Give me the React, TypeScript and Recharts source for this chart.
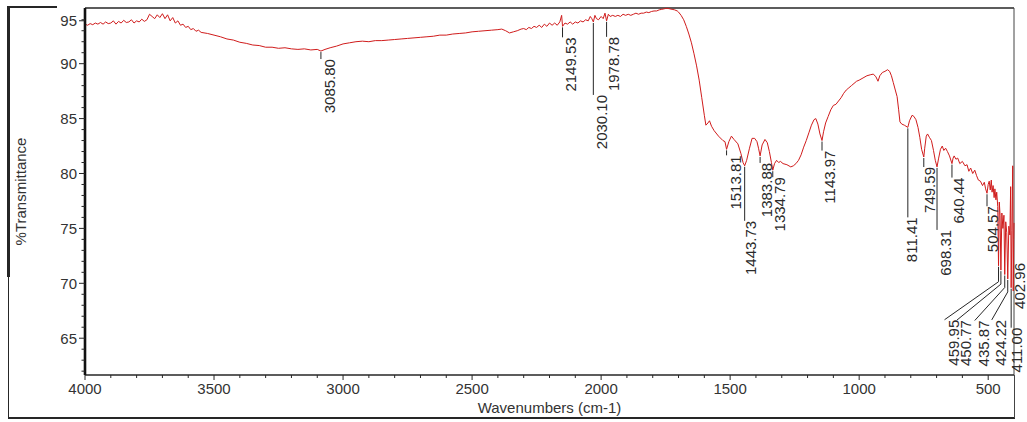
import { ComposedChart, Line, Scatter, XAxis, YAxis, ReferenceLine } from 'recharts';

// FTIR spectrum as [wavenumber, %T] pairs (left to right)
const highBaseline: [number, number][] = [
  [4000, 93.6], [3990, 93.5], [3980, 93.65], [3970, 93.55], [3960, 93.7], [3950, 93.6],
  [3940, 93.75], [3930, 93.6], [3920, 93.8], [3910, 93.65], [3900, 93.7], [3890, 93.9],
  [3880, 93.6], [3870, 93.85], [3860, 93.7], [3850, 93.95], [3840, 93.75], [3830, 93.8],
  [3820, 94.0], [3810, 93.7], [3800, 93.9], [3790, 93.8], [3780, 94.05], [3770, 93.85],
  [3760, 94.0], [3750, 94.5], [3740, 94.3], [3730, 94.1], [3720, 94.45], [3710, 94.2],
  [3700, 94.55], [3690, 94.1], [3680, 94.45], [3670, 93.9], [3660, 94.2], [3650, 93.7],
  [3640, 93.9], [3630, 93.5], [3620, 93.6], [3610, 93.3], [3600, 93.4], [3590, 93.1],
  [3580, 93.2], [3570, 92.95], [3560, 93.05],
];

const broadOH: [number, number][] = [
  [3550, 92.85], [3525, 92.75], [3500, 92.6], [3475, 92.45], [3450, 92.25], [3425, 92.15],
  [3400, 91.95], [3375, 91.85], [3350, 91.7], [3325, 91.65], [3300, 91.5], [3275, 91.5],
  [3250, 91.4], [3225, 91.45], [3200, 91.35], [3175, 91.3], [3150, 91.35], [3125, 91.25],
  [3100, 91.3], [3085.8, 91.15], [3070, 91.3], [3050, 91.45], [3025, 91.6], [3000, 91.8],
  [2975, 91.9], [2950, 92.0], [2925, 92.05], [2900, 92.0], [2875, 92.1], [2850, 92.1],
  [2825, 92.15], [2800, 92.2], [2775, 92.25], [2750, 92.3], [2725, 92.35], [2700, 92.4],
  [2675, 92.45], [2650, 92.5], [2625, 92.6], [2600, 92.6], [2575, 92.7], [2550, 92.75],
  [2525, 92.8], [2500, 92.9], [2475, 92.95], [2450, 93.0], [2425, 93.05], [2400, 93.1],
  [2385, 93.15], [2370, 93.0], [2355, 92.8], [2340, 92.9], [2325, 93.0], [2310, 93.15],
];

const noisyMid: [number, number][] = [
  [2300, 93.2], [2290, 93.1], [2280, 93.3], [2270, 93.2], [2260, 93.4], [2250, 93.3],
  [2240, 93.5], [2230, 93.3], [2220, 93.6], [2210, 93.4], [2200, 93.7], [2190, 93.5],
  [2180, 93.7], [2170, 93.5], [2160, 93.8], [2153, 94.4], [2149.5, 93.4], [2140, 93.7],
  [2130, 93.6], [2120, 93.8], [2110, 93.6], [2100, 93.8], [2090, 93.7], [2080, 93.9],
  [2070, 93.8], [2060, 94.0], [2050, 93.9], [2042, 94.3], [2036, 94.1], [2030.1, 93.8],
  [2024, 94.4], [2018, 94.1], [2010, 94.0], [2000, 94.3], [1992, 94.1], [1985, 94.6],
  [1978.8, 93.9], [1972, 94.5], [1965, 94.3], [1955, 94.4], [1945, 94.3], [1935, 94.4],
  [1925, 94.3], [1915, 94.5], [1905, 94.4], [1895, 94.5], [1885, 94.4], [1875, 94.5],
  [1865, 94.6], [1855, 94.5], [1845, 94.6], [1835, 94.6], [1825, 94.7], [1815, 94.65],
  [1805, 94.75], [1795, 94.8], [1785, 94.8], [1775, 94.9], [1765, 94.95], [1755, 95.0],
  [1745, 95.05], [1735, 95.0], [1725, 94.95], [1715, 94.9], [1705, 94.8],
];

const fingerprint: [number, number][] = [
  [1700, 94.7], [1690, 94.4], [1680, 94.0], [1670, 93.4], [1660, 92.7], [1650, 91.9],
  [1640, 90.9], [1630, 89.8], [1620, 88.5], [1610, 86.9], [1600, 85.3], [1594, 84.4],
  [1586, 84.6], [1580, 84.8], [1572, 84.3], [1562, 83.9], [1545, 83.4], [1528, 83.0],
  [1520, 82.9], [1513.8, 82.2], [1505, 82.9], [1495, 83.4], [1485, 83.1], [1470, 82.7],
  [1458, 81.8], [1450, 81.0], [1443.7, 80.7], [1436, 81.2], [1425, 82.3], [1415, 83.2],
  [1405, 83.2], [1396, 82.9], [1390, 82.3], [1383.9, 81.6], [1376, 82.6], [1365, 83.1],
  [1356, 82.8], [1348, 82.0], [1340, 81.0], [1334.8, 80.3], [1328, 80.9], [1320, 81.2],
  [1312, 81.0], [1305, 81.1], [1295, 80.9], [1280, 80.8], [1265, 80.6], [1255, 80.7],
  [1245, 80.9], [1235, 81.2], [1225, 81.7], [1215, 82.4], [1205, 83.0], [1195, 83.7],
  [1185, 84.4], [1175, 84.9], [1168, 85.0], [1160, 84.5], [1152, 83.6], [1144, 83.0],
  [1138, 83.8], [1130, 84.6], [1120, 85.2], [1110, 85.8], [1100, 86.2], [1090, 86.3],
  [1080, 86.6], [1070, 86.9], [1060, 87.3], [1050, 87.6], [1040, 87.8], [1030, 88.0],
  [1020, 88.2], [1010, 88.4], [1000, 88.5], [985, 88.7], [970, 88.9], [955, 89.0],
  [945, 89.05], [935, 88.8], [927, 88.4], [920, 88.9], [910, 89.2], [900, 89.3],
  [890, 89.45], [882, 89.3], [875, 88.9], [868, 88.3], [860, 87.6], [853, 87.0],
  [847, 85.8], [842, 84.7], [835, 84.5], [825, 84.4], [811.4, 84.2], [805, 84.8],
  [795, 85.3], [788, 85.2], [780, 84.9], [772, 84.2], [765, 83.3], [758, 82.2],
  [749.6, 81.5], [746, 82.3], [740, 83.4], [735, 83.6], [728, 83.3], [720, 83.0],
  [712, 82.1], [705, 81.2], [698.3, 80.6], [692, 81.4], [685, 82.2], [678, 82.5],
  [672, 82.1], [665, 82.3], [658, 82.0], [650, 81.6], [640.4, 80.9], [636, 81.4],
  [632, 81.6], [625, 81.3], [618, 81.4], [610, 80.9], [600, 81.1], [590, 80.7],
  [582, 80.8], [575, 80.2], [568, 80.5], [560, 80.0], [552, 80.3], [545, 79.8],
  [538, 79.4], [530, 79.3], [522, 78.9], [515, 79.2], [510, 78.6], [504.6, 78.2],
];

const lowEnd: [number, number][] = [
  [500, 79.0], [496, 79.3], [492, 78.5], [488, 79.4], [485, 78.3], [481, 78.9],
  [477, 77.8], [474, 78.6], [470, 77.6], [467, 78.3], [463, 77.0], [459.95, 71.6],
  [457, 77.4], [454, 76.2], [450.77, 71.2], [447, 76.4], [443, 75.0], [439, 76.2],
  [435.87, 70.8], [432, 75.6], [428, 74.6], [424.22, 70.4], [420, 75.2], [416, 74.4],
  [413, 78.8], [411, 69.6], [408, 74.8], [405, 80.7], [402.96, 69.3], [401, 74.0], [400, 75.5],
];

// picked peaks: [wavenumber, %T at the pick]
const peaks: [number, number][] = [
  [3085.8, 91.15], [2149.53, 93.4], [2030.1, 93.8], [1978.78, 93.9], [1513.81, 82.2],
  [1443.73, 80.7], [1383.88, 81.6], [1334.79, 80.3], [1143.97, 83.0], [811.41, 84.2],
  [749.59, 81.5], [698.31, 80.6], [640.44, 80.9], [504.57, 78.2], [459.95, 71.6],
  [450.77, 71.2], [435.87, 70.8], [424.22, 70.4], [411.0, 69.6], [402.96, 69.3],
];

// label layout (px): leader length below the pick, text offset, leader knee
const labelLead = [8, 11, 73, 16, 6, 55, 7, 7, 10, 90, 10, 63, 14, 13, 54, 50, 46, 41, 40, -28];
const labelDx = [9, 8, 8, 7, 9, 6, 6, 7, 7, 4, 6, 8, 7, 5, -45, -35, -21, -7, 5, 6];
const labelKnee = [0, 0, 0, 0, 0, 0, 0, 0, 0, 0, 0, 0, 0, 0, 16, 14, 13, 13, 0, 0];

const xTicks = [500, 600, 700, 800, 900, 1000, 1100, 1200, 1300, 1400, 1500, 1600, 1700, 1800,
  1900, 2000, 2100, 2200, 2300, 2400, 2500, 2600, 2700, 2800, 2900, 3000, 3100, 3200, 3300,
  3400, 3500, 3600, 3700, 3800, 3900, 4000];
const yTicks = [62, 63, 64, 65, 66, 67, 68, 69, 70, 71, 72, 73, 74, 75, 76, 77, 78, 79, 80,
  81, 82, 83, 84, 85, 86, 87, 88, 89, 90, 91, 92, 93, 94, 95];

const spectrum = [...highBaseline, ...broadOH, ...noisyMid, ...fingerprint, ...lowEnd]
  .map(([wn, t]) => ({ wn, t }));
const peakMarks = peaks.map(([wn, t], i) => ({
  wn, t, label: wn.toFixed(2), lead: labelLead[i], dx: labelDx[i], knee: labelKnee[i],
}));

const font = '"Liberation Sans", Arial, sans-serif';
const ink = '#262626';

const XTick = ({ x, y, payload }: any) => {
  const major = payload.value % 500 === 0;
  return (
    <g>
      <line x1={x} x2={x} y1={y} y2={y + (major ? 5 : 3)} stroke={ink} />
      {major && (
        <text x={x} y={y + 13} textAnchor="middle" dominantBaseline="central" fontSize={15} fill="#333" fontFamily={font}>
          {payload.value}
        </text>
      )}
    </g>
  );
};

const YTick = ({ x, y, payload }: any) => {
  const v = payload.value;
  const major = v % 5 === 0;
  // the top label sits a little below the frame in the original
  const yy = v === 95 ? y + 12 : y;
  return (
    <g>
      <line x1={x} x2={x - (major ? 6 : 3.5)} y1={yy} y2={yy} stroke={ink} />
      {major && (
        <text x={x - 8} y={yy} textAnchor="end" dominantBaseline="central" fontSize={15} fill="#333" fontFamily={font}>
          {v}
        </text>
      )}
    </g>
  );
};

const YTitle = ({ viewBox }: any) => {
  const cx = viewBox.x + 12;
  const cy = viewBox.y + viewBox.height / 2;
  return (
    <text
      transform={`translate(${cx},${cy}) rotate(-90)`}
      textAnchor="middle"
      dominantBaseline="central"
      fontSize={15}
      fill="#333"
      fontFamily={font}
    >
      %Transmittance
    </text>
  );
};

const PeakMark = (props: any) => {
  const { cx, cy, payload } = props;
  const { label, lead, dx, knee } = payload;
  const top = cy + lead;
  const tx = cx + dx;
  let d = '';
  if (knee > 0) d = `M${cx},${cy + 1} V${cy + knee} L${tx - 9},${top}`;
  else if (lead > 0) d = `M${cx},${cy + 1} V${top}`;
  return (
    <g>
      {d && <path d={d} stroke={ink} strokeWidth={1} fill="none" />}
      <text
        transform={`translate(${tx},${top}) rotate(-90)`}
        textAnchor="end"
        dominantBaseline="central"
        fontSize={15}
        fill="#2a2a2a"
        fontFamily={font}
      >
        {label}
      </text>
    </g>
  );
};

const line = (style: any) => <div style={{ position: 'absolute', background: ink, ...style }} />;

export default function App() {
  return (
    <div style={{ position: 'absolute', left: 0, top: 0, width: 1027, height: 422, background: '#fff', fontFamily: font }}>
      <ComposedChart width={1027} height={422} margin={{ top: 8, right: 13, bottom: 0, left: 8 }}>
        <XAxis
          dataKey="wn"
          type="number"
          domain={[400, 4000]}
          reversed
          ticks={xTicks}
          interval={0}
          tickSize={0}
          tickMargin={0}
          tickLine={false}
          tick={<XTick />}
          height={47}
          axisLine={{ stroke: ink, strokeWidth: 1.5 }}
          label={{ value: 'Wavenumbers (cm-1)', position: 'insideBottom', offset: 9, fontSize: 15, fill: '#333', fontFamily: font }}
        />
        <YAxis
          type="number"
          domain={[61.65, 95.07]}
          ticks={yTicks}
          interval={0}
          tickSize={0}
          tickMargin={0}
          tickLine={false}
          tick={<YTick />}
          width={77}
          axisLine={{ stroke: '#111', strokeWidth: 2.6 }}
          label={(p: any) => <YTitle {...p} />}
        />
        <ReferenceLine y={95.07} stroke={ink} strokeWidth={1.5} />
        <ReferenceLine x={400} stroke="#444" strokeWidth={1} />
        <Line
          data={spectrum}
          dataKey="t"
          type="linear"
          stroke="#d01c1c"
          strokeWidth={1}
          dot={false}
          activeDot={false}
          isAnimationActive={false}
        />
        <Scatter
          data={peakMarks}
          dataKey="t"
          shape={(p: any) => <PeakMark {...p} />}
          isAnimationActive={false}
        />
      </ComposedChart>
      {line({ left: 7, top: 6, width: 3, height: 271 })}
      {line({ left: 8, top: 277, width: 1, height: 141 })}
      {line({ left: 8, top: 6, width: 49, height: 1.5 })}
      {line({ left: 8, top: 417, width: 1007, height: 1.5 })}
      {line({ left: 1014, top: 375, width: 1, height: 43, background: '#444' })}
    </div>
  );
}
